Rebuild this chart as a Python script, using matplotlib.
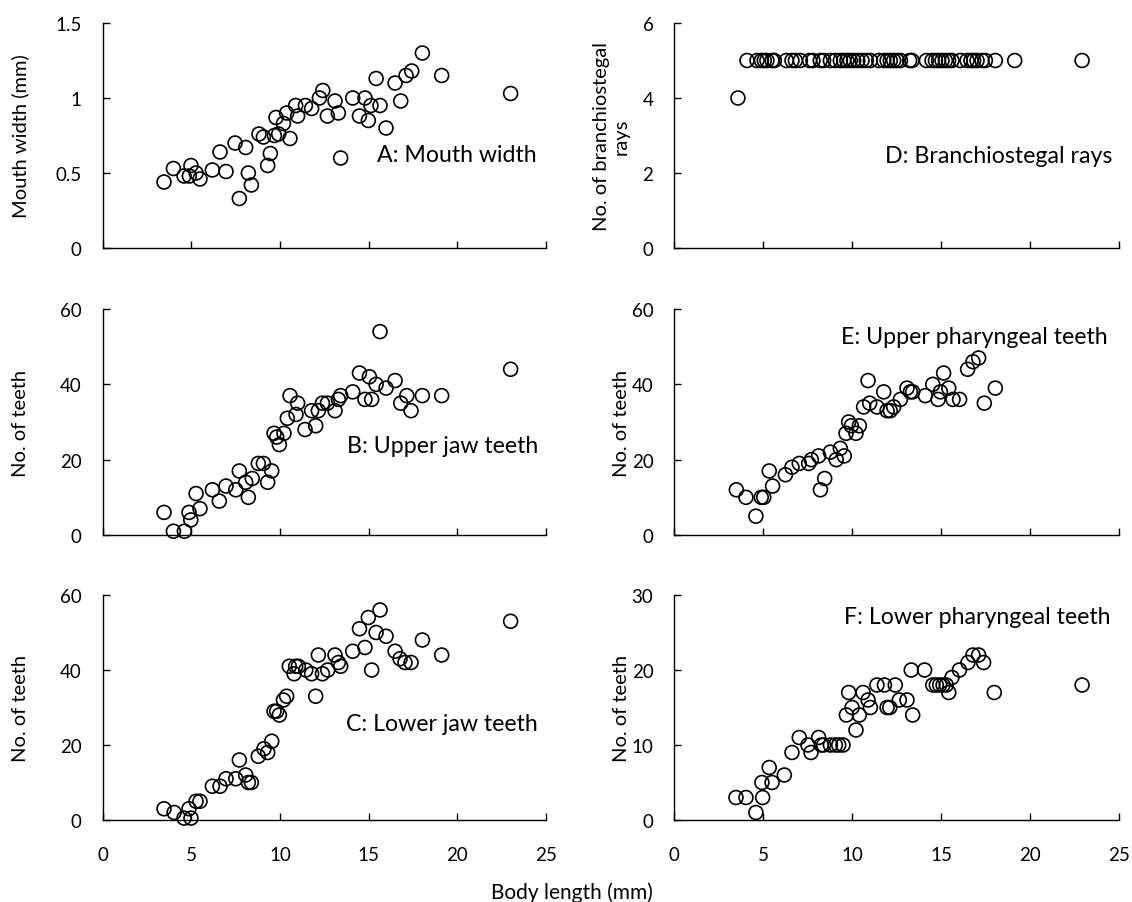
import matplotlib
matplotlib.use("Agg")
import matplotlib.pyplot as plt

plt.rcParams['font.family'] = ['Lato', 'DejaVu Sans']
plt.rcParams['xtick.direction'] = 'in'
plt.rcParams['ytick.direction'] = 'in'
plt.rcParams['xtick.major.size'] = 5
plt.rcParams['ytick.major.size'] = 5
plt.rcParams['xtick.major.width'] = 1.0
plt.rcParams['ytick.major.width'] = 1.0
plt.rcParams['xtick.major.pad'] = 19
plt.rcParams['ytick.major.pad'] = 15
plt.rcParams['xtick.labelsize'] = 13.5
plt.rcParams['ytick.labelsize'] = 13.5

# ---------------- data ----------------
a_len = [3.46, 3.99, 4.59, 4.89, 4.98, 5.27, 5.49, 6.19, 6.62, 6.96, 7.47, 7.71, 8.07, 8.22, 8.39,
         8.82, 9.07, 9.31, 9.46, 9.69, 9.78, 9.93, 10.2, 10.38, 10.57, 10.89, 11.0, 11.44, 11.79,
         12.23, 12.42, 12.68, 13.11, 13.3, 13.43, 14.11, 14.49, 14.8, 14.99, 15.14, 15.43, 15.65,
         15.99, 16.5, 16.82, 17.12, 17.44, 18.04, 19.13, 23.02]
a_mouth = [0.44, 0.53, 0.48, 0.48, 0.55, 0.50, 0.46, 0.52, 0.64, 0.51, 0.70, 0.33, 0.67, 0.50, 0.42,
           0.76, 0.74, 0.55, 0.63, 0.75, 0.87, 0.76, 0.83, 0.90, 0.73, 0.95, 0.88, 0.95, 0.93,
           1.00, 1.05, 0.88, 0.98, 0.90, 0.60, 1.00, 0.88, 1.00, 0.85, 0.95, 1.13, 0.95,
           0.80, 1.10, 0.98, 1.15, 1.18, 1.30, 1.15, 1.03]

b_len = [3.46, 3.99, 4.61, 4.87, 4.97, 5.27, 5.49, 6.19, 6.58, 6.96, 7.51, 7.71, 8.07, 8.22, 8.44,
         8.78, 9.07, 9.31, 9.54, 9.67, 9.82, 9.97, 10.23, 10.42, 10.57, 10.91, 11.0, 11.42, 11.79,
         12.02, 12.17, 12.4, 12.68, 13.11, 13.3, 13.43, 14.11, 14.49, 14.8, 15.05, 15.18, 15.43,
         15.65, 15.99, 16.5, 16.82, 17.16, 17.4, 18.04, 19.13, 23.02]
b_upper_jaw = [6, 1, 1, 6, 4, 11, 7, 12, 9, 13, 12, 17, 14, 10, 15,
               19, 19, 14, 17, 27, 26, 24, 27, 31, 37, 32, 35, 28, 33,
               29, 33, 35, 35, 33, 36, 37, 38, 43, 36, 42, 36, 40,
               54, 39, 41, 35, 37, 33, 37, 37, 44]

c_len = [3.46, 4.03, 4.59, 4.87, 4.98, 5.27, 5.49, 6.19, 6.62, 6.96, 7.51, 7.71, 8.07, 8.22, 8.39,
         8.78, 9.1, 9.31, 9.54, 9.67, 9.82, 9.97, 10.2, 10.38, 10.53, 10.8, 10.89, 11.04, 11.46,
         11.79, 12.02, 12.17, 12.4, 12.7, 13.11, 13.3, 13.43, 14.11, 14.49, 14.8, 14.99, 15.18,
         15.43, 15.65, 15.99, 16.5, 16.78, 17.06, 17.4, 18.04, 19.13, 23.02]
c_lower_jaw = [3, 2, 0.5, 3, 0.5, 5, 5, 9, 9, 11, 11, 16, 12, 10, 10,
               17, 19, 18, 21, 29, 29, 28, 32, 33, 41, 39, 41, 41, 40,
               39, 33, 44, 39, 40, 44, 42, 41, 45, 51, 46, 54, 40,
               50, 56, 49, 45, 43, 42, 42, 48, 44, 53]

d_len = [3.58, 4.09, 4.65, 4.9, 5.06, 5.21, 5.5, 5.63, 6.3, 6.62, 6.81, 7.09, 7.61, 7.8, 8.21, 8.4,
         8.78, 9.06, 9.34, 9.53, 9.71, 9.9, 10.09, 10.32, 10.56, 10.8, 11.03, 11.5, 11.78, 11.97,
         12.15, 12.34, 12.53, 12.72, 13.24, 13.37, 14.18, 14.5, 14.69, 14.87, 15.06, 15.25, 15.43,
         15.62, 16.09, 16.47, 16.69, 16.84, 17.03, 17.31, 17.5, 18.06, 19.15, 22.94]
d_rays = [4] + [5] * 53

e_len = [3.49, 4.03, 4.59, 4.89, 5.03, 5.34, 5.53, 6.25, 6.62, 7.03, 7.56, 7.71, 8.12, 8.22, 8.46,
         8.78, 9.11, 9.34, 9.56, 9.66, 9.81, 9.96, 10.22, 10.41, 10.65, 10.9, 10.99, 11.4, 11.78,
         11.97, 12.15, 12.34, 12.72, 13.09, 13.28, 13.41, 14.12, 14.54, 14.84, 14.97, 15.15, 15.44,
         15.68, 16.05, 16.5, 16.8, 17.12, 17.44, 18.06]
e_upper_phar = [12, 10, 5, 10, 10, 17, 13, 16, 18, 19, 19, 20, 21, 12, 15,
                22, 20, 23, 21, 27, 30, 29, 27, 29, 34, 41, 35, 34, 38,
                33, 33, 34, 36, 39, 38, 38, 37, 40, 36, 38, 43, 39,
                36, 36, 44, 46, 47, 35, 39]

f_len = [3.47, 4.03, 4.59, 4.97, 4.93, 5.34, 5.5, 6.19, 6.62, 7.03, 7.52, 7.69, 8.12, 8.27, 8.4,
         8.78, 9.06, 9.25, 9.49, 9.68, 9.81, 10.0, 10.22, 10.41, 10.62, 10.9, 11.03, 11.4, 11.82,
         11.97, 12.12, 12.43, 12.66, 13.09, 13.33, 13.41, 14.08, 14.54, 14.74, 14.93, 15.12, 15.3,
         15.44, 15.62, 16.04, 16.52, 16.8, 17.12, 17.4, 18.0, 22.94]
f_lower_phar = [3, 3, 1, 3, 5, 7, 5, 6, 9, 11, 10, 9, 11, 10, 10,
                10, 10, 10, 10, 14, 17, 15, 12, 14, 17, 16, 15, 18, 18,
                15, 15, 18, 16, 16, 20, 14, 20, 18, 18, 18, 18, 18,
                17, 19, 20, 21, 22, 22, 21, 17, 18]

panels = [
    # (x, y, ylim, yticks, yticklabels, ylabel, label text, text x, text y, row, col)
    (a_len, a_mouth, 1.5, [0, 0.5, 1, 1.5], ['0', '0.5', '1', '1.5'], 'Mouth width (mm)',
     'A: Mouth width', 15.5, 0.58, 0, 0),
    (b_len, b_upper_jaw, 60, [0, 20, 40, 60], ['0', '20', '40', '60'], 'No. of teeth',
     'B: Upper jaw teeth', 13.77, 22.1, 1, 0),
    (c_len, c_lower_jaw, 60, [0, 20, 40, 60], ['0', '20', '40', '60'], 'No. of teeth',
     'C: Lower jaw teeth', 13.73, 24.0, 2, 0),
    (d_len, d_rays, 6, [0, 2, 4, 6], ['0', '2', '4', '6'], 'No. of branchiostegal\nrays',
     'D: Branchiostegal rays', 11.87, 2.28, 0, 1),
    (e_len, e_upper_phar, 60, [0, 20, 40, 60], ['0', '20', '40', '60'], 'No. of teeth',
     'E: Upper pharyngeal teeth', 9.38, 51.05, 1, 1),
    (f_len, f_lower_phar, 30, [0, 10, 20, 30], ['0', '10', '20', '30'], 'No. of teeth',
     'F: Lower pharyngeal teeth', 9.53, 26.3, 2, 1),
]

xticks = [0, 5, 10, 15, 20, 25]

fig = plt.figure(figsize=(11.32, 9.03), dpi=100)

W, H = 1132, 903
col_px = [(102.7, 443.0), (674.3, 444.4)]
row_px = [(24, 249), (310, 536), (596, 821)]
ylab_x = [-0.166, -0.10]

LABFS = 14.5
TEXTFS = 16.7

for (x, y, ymax, yt, ytl, ylab, txt, tx, ty, r, c) in panels:
    l, w = col_px[c]
    t, b = row_px[r]
    ax = fig.add_axes([l / W, 1 - b / H, w / W, (b - t) / H])
    ax.scatter(x, y, s=100, facecolors='none', edgecolors='black', linewidths=1.2,
               clip_on=False, zorder=3)
    ax.set_xlim(0, 25)
    ax.set_ylim(0, ymax)
    ax.set_xticks(xticks)
    ax.set_yticks(yt)
    ax.set_yticklabels(ytl)
    if r == 2:
        ax.set_xticklabels([str(v) for v in xticks])
    else:
        ax.set_xticklabels([])
    for s in ['top', 'right']:
        ax.spines[s].set_visible(False)
    for s in ['left', 'bottom']:
        ax.spines[s].set_linewidth(1.0)
    ax.set_ylabel(ylab, fontsize=LABFS, linespacing=1.2)
    ax.yaxis.set_label_coords(ylab_x[c], 0.5)
    ax.text(tx, ty, txt, fontsize=TEXTFS, ha='left', va='baseline')

fig.text(572 / W, 1 - 893 / H, 'Body length (mm)', fontsize=15, ha='center', va='center')

fig.savefig('out.png', dpi=100)
